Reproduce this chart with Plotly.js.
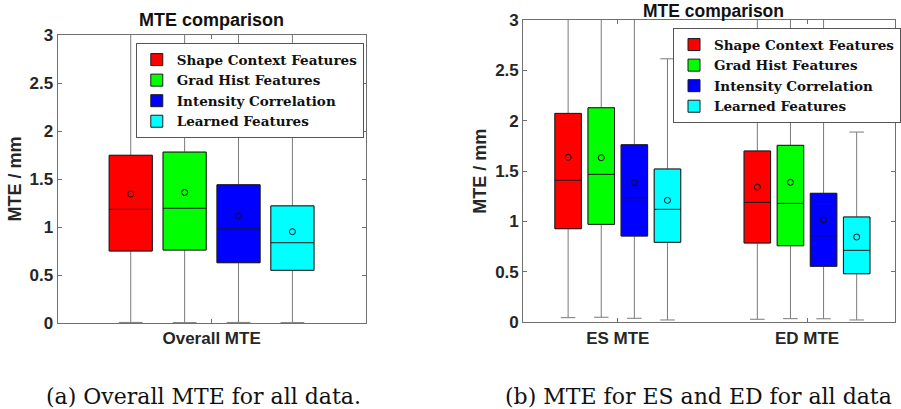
<!DOCTYPE html>
<html>
<head>
<meta charset="utf-8">
<script src="https://cdn.plot.ly/plotly-3.0.1.min.js"></script>
<style>html,body{margin:0;padding:0;background:#fff;}#chart{width:901px;height:409px;}</style>
</head>
<body>
<div id="chart"></div>
<script>
// ---- data ----
const methods = ['Shape Context Features', 'Grad Hist Features', 'Intensity Correlation', 'Learned Features'];
const methodColors = ['#ff0000', '#00ff00', '#0000ff', '#00ffff'];

// (a) overall MTE, one value per method
const overallCats = ['Overall MTE'];
const overallQ1 = [0.750, 0.760, 0.628, 0.549];
const overallMedian = [1.184, 1.195, 0.980, 0.836];
const overallQ3 = [1.747, 1.780, 1.440, 1.220];
const overallMean = [1.344, 1.360, 1.115, 0.951];
const overallLow = [0.006, 0.004, 0.006, 0.004];
const overallHigh = [3.4, 3.4, 3.4, 3.4];

// (b) ES / ED MTE, per method: [ES, ED]
const phaseCats = ['ES MTE', 'ED MTE'];
const phaseQ1 = [[0.929, 0.787], [0.972, 0.760], [0.856, 0.556], [0.794, 0.482]];
const phaseMedian = [[1.409, 1.190], [1.468, 1.180], [1.236, 0.859], [1.121, 0.714]];
const phaseQ3 = [[2.073, 1.700], [2.129, 1.756], [1.762, 1.280], [1.521, 1.045]];
const phaseMean = [[1.637, 1.342], [1.633, 1.389], [1.385, 1.015], [1.210, 0.846]];
const phaseLow = [[0.046, 0.030], [0.050, 0.036], [0.040, 0.035], [0.023, 0.023]];
const phaseHigh = [[3.4, 3.4], [3.4, 3.4], [3.4, 3.4], [2.615, 1.888]];

// ---- build traces ----
function buildTraces(cats, q1, med, q3, mean, low, high, xa, ya, legendId, tag) {
  const whiskers = [], boxes = [];
  for (let i = 0; i < methods.length; i++) {
    const wrap = v => Array.isArray(v) ? v : [v];
    const Q1 = wrap(q1[i]), MED = wrap(med[i]), Q3 = wrap(q3[i]);
    whiskers.push({
      type: 'box', x: cats, q1: Q1, median: MED, q3: Q3,
      lowerfence: wrap(low[i]), upperfence: wrap(high[i]),
      xaxis: xa, yaxis: ya, alignmentgroup: tag, offsetgroup: 'm' + i,
      line: {color: '#7a7a7a', width: 1}, fillcolor: 'rgba(0,0,0,0)',
      whiskerwidth: 0.55, boxpoints: false, showlegend: false, hoverinfo: 'skip',
      name: methods[i]
    });
    boxes.push({
      type: 'box', x: cats, q1: Q1, median: MED, q3: Q3,
      lowerfence: Q1, upperfence: Q3,
      y: wrap(mean[i]).map(m => [m]),
      boxpoints: 'all', pointpos: 0, jitter: 0,
      marker: {symbol: 'circle-open', size: 6, color: '#111', line: {width: 1, color: '#111'}},
      xaxis: xa, yaxis: ya, alignmentgroup: tag, offsetgroup: 'm' + i,
      line: {color: '#1a1a1a', width: 1}, fillcolor: methodColors[i],
      whiskerwidth: 0, name: methods[i], legend: legendId, hoverinfo: 'skip'
    });
  }
  return whiskers.concat(boxes);
}

const traces = buildTraces(overallCats, overallQ1, overallMedian, overallQ3, overallMean, overallLow, overallHigh, 'x', 'y', 'legend', 'L')
  .concat(buildTraces(phaseCats, phaseQ1, phaseMedian, phaseQ3, phaseMean, phaseLow, phaseHigh, 'x2', 'y2', 'legend2', 'R'));

const W = 901, H = 409;
const sans = {family: 'Liberation Sans, Arial, sans-serif', size: 17, color: '#262626', weight: 'bold'};
const serif = {family: 'DejaVu Serif, serif', size: 13.5, color: '#111', weight: 'bold'};
const capFont = {family: 'DejaVu Serif, serif', size: 22, color: '#111'};

const axisCommon = {
  showline: true, linecolor: '#6f6f6f', linewidth: 1, mirror: 'ticks',
  ticks: 'inside', ticklen: 4, tickcolor: '#6f6f6f', tickwidth: 1,
  showgrid: false, zeroline: false, fixedrange: true, tickfont: sans
};

const layout = {
  width: W, height: H,
  margin: {l: 0, r: 0, t: 0, b: 0},
  paper_bgcolor: '#fff', plot_bgcolor: '#fff',
  boxmode: 'group', boxgap: 0.3, boxgroupgap: 0.2,
  showlegend: true,
  xaxis: Object.assign({}, axisCommon, {domain: [58 / W, 368 / W], range: [-0.5, 0.5], type: 'category', anchor: 'y'}),
  yaxis: Object.assign({}, axisCommon, {domain: [(H - 323) / H, (H - 35) / H], range: [0, 3], dtick: 0.5, anchor: 'x',
    title: {text: 'MTE / mm', standoff: 3, font: Object.assign({}, sans, {size: 18})}}),
  xaxis2: Object.assign({}, axisCommon, {domain: [526.7 / W, 1], range: [-0.5, 1.465], type: 'category', anchor: 'y2'}),
  yaxis2: Object.assign({}, axisCommon, {domain: [(H - 322.3) / H, (H - 20) / H], range: [0, 3], dtick: 0.5, anchor: 'x2',
    title: {text: 'MTE / mm', standoff: 3, font: Object.assign({}, sans, {size: 18})}}),
  legend: {x: 136.7 / W, y: (H - 43.3) / H, xanchor: 'left', yanchor: 'top', bgcolor: '#fff',
    bordercolor: '#555', borderwidth: 1, font: serif, tracegroupgap: 0},
  legend2: {x: 677.7 / W, y: (H - 28.3) / H, xanchor: 'left', yanchor: 'top', bgcolor: '#fff',
    bordercolor: '#555', borderwidth: 1, font: serif, tracegroupgap: 0},
  annotations: [
    {text: 'MTE comparison', x: 213 / W, y: (H - 20) / H, xref: 'paper', yref: 'paper', xanchor: 'center', yanchor: 'middle', showarrow: false, font: Object.assign({}, sans, {size: 18, color: '#111'})},
    {text: 'MTE comparison', x: 718 / W, y: (H - 10.5) / H, xref: 'paper', yref: 'paper', xanchor: 'center', yanchor: 'middle', showarrow: false, font: Object.assign({}, sans, {size: 17.5, color: '#111'})},
    {text: '(a) Overall MTE for all data.', x: 205 / W, y: (H - 396) / H, xref: 'paper', yref: 'paper', xanchor: 'center', yanchor: 'middle', showarrow: false, font: capFont},
    {text: '(b) MTE for ES and ED for all data', x: 703 / W, y: (H - 396) / H, xref: 'paper', yref: 'paper', xanchor: 'center', yanchor: 'middle', showarrow: false, font: capFont}
  ]
};

Plotly.newPlot('chart', traces, layout, {staticPlot: true, displayModeBar: false});
</script>
</body>
</html>
